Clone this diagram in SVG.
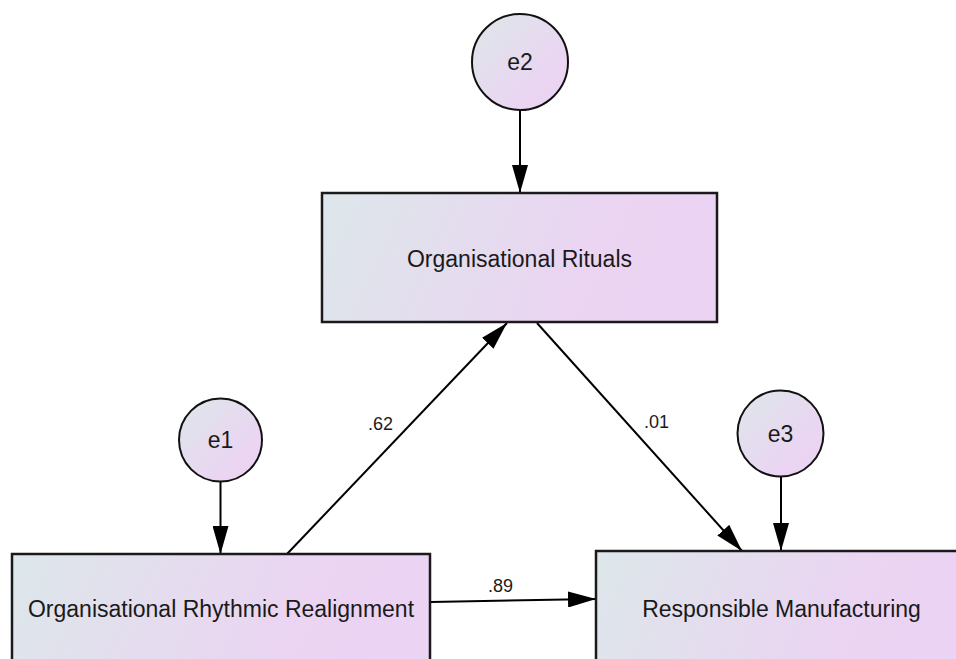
<svg xmlns="http://www.w3.org/2000/svg" width="956" height="659" viewBox="0 0 956 659">
<defs>
<linearGradient id="g" x1="0" y1="0" x2="1" y2="1" gradientUnits="objectBoundingBox">
<stop offset="0" stop-color="#dde7ea"/>
<stop offset="0.7" stop-color="#ead5f2"/>
<stop offset="1" stop-color="#ebd3f3"/>
</linearGradient>
<linearGradient id="gr" x1="0" y1="0" x2="1" y2="0.15" gradientUnits="objectBoundingBox">
<stop offset="0" stop-color="#dde7ea"/>
<stop offset="0.7" stop-color="#ead5f2"/>
<stop offset="1" stop-color="#ebd3f3"/>
</linearGradient>
<marker id="ah" markerUnits="userSpaceOnUse" markerWidth="28" markerHeight="16" refX="28" refY="8" orient="auto" viewBox="0 0 28 16">
<path d="M0,0 L28,8 L0,16 z" fill="#000"/>
</marker>
<style>
.box{fill:url(#gr);stroke:#1a1a1a;stroke-width:2.5}
.circ{fill:url(#g);stroke:#111;stroke-width:2}
.lbl{font-family:"Liberation Sans",Arial,sans-serif;font-size:23px;fill:#1a1a1a;text-anchor:middle}
.coef{font-family:"Liberation Sans",Arial,sans-serif;font-size:18px;fill:#1a1a1a}
.conn{stroke:#000;stroke-width:2;fill:none;marker-end:url(#ah)}
</style>
</defs>
<rect width="956" height="659" fill="#fff"/>
<g id="connectors">
<line class="conn" x1="520" y1="110" x2="520" y2="193"/>
<line class="conn" x1="220.5" y1="482" x2="220.5" y2="554"/>
<line class="conn" x1="781" y1="476" x2="781" y2="551"/>
<line class="conn" x1="287" y1="554" x2="507" y2="323"/>
<line class="conn" x1="537" y1="323" x2="742" y2="551"/>
<line class="conn" x1="431" y1="602" x2="596" y2="599"/>
<text class="coef" x="368" y="430">.62</text>
<text class="coef" x="644" y="428">.01</text>
<text class="coef" x="488" y="592">.89</text>
</g>
<g id="e2">
<circle class="circ" cx="520" cy="62" r="48"/>
<text class="lbl" x="520" y="70">e2</text>
</g>
<g id="e1">
<circle class="circ" cx="220.5" cy="440" r="41.5"/>
<text class="lbl" x="220.5" y="448">e1</text>
</g>
<g id="e3">
<circle class="circ" cx="780.5" cy="433.5" r="43"/>
<text class="lbl" x="780.5" y="441.5">e3</text>
</g>
<g id="rituals">
<rect class="box" x="322" y="193" width="395" height="129"/>
<text class="lbl" x="519.5" y="267">Organisational Rituals</text>
</g>
<g id="realignment">
<rect class="box" x="12" y="554" width="418" height="129"/>
<text class="lbl" x="221" y="617">Organisational Rhythmic Realignment</text>
</g>
<g id="manufacturing">
<rect class="box" x="596" y="551" width="372" height="129"/>
<text class="lbl" x="781.5" y="617">Responsible Manufacturing</text>
</g>
</svg>
